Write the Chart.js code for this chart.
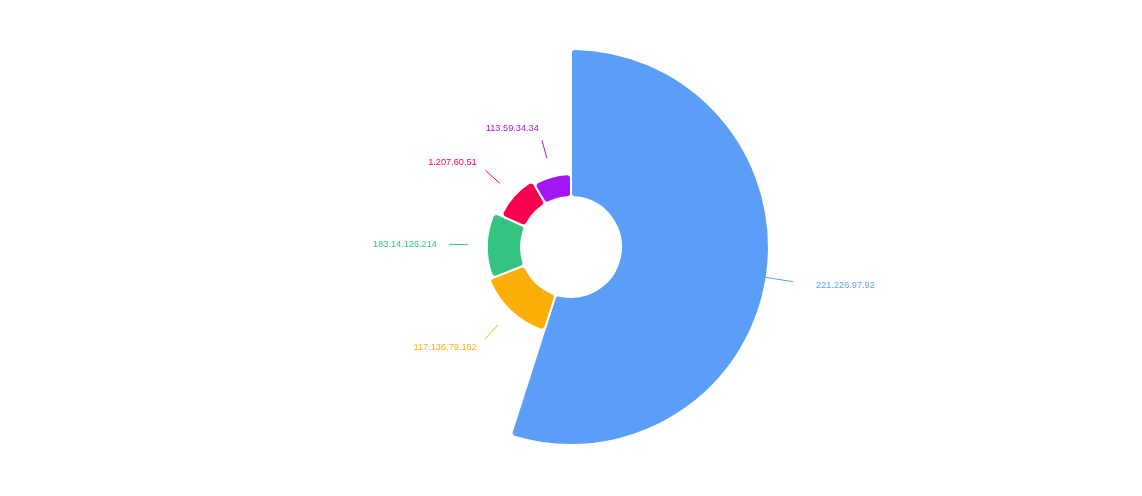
<!DOCTYPE html>
<html>
<head>
<meta charset="utf-8">
<script src="https://cdn.jsdelivr.net/npm/chart.js@4/dist/chart.umd.min.js"></script>
<style>
  html, body { margin: 0; padding: 0; background: #fff; }
  #wrap { width: 1142px; height: 496px; }
</style>
</head>
<body>
<div id="wrap"><canvas id="myChart"></canvas></div>
<script>
'use strict'

// data
const ips = ['221.226.97.92', '117.136.79.162', '183.14.126.214', '1.207.60.51', '113.59.34.34'];
const hits = [39, 10, 9, 7, 6];
const colors = ['#5b9ef7', '#fbae08', '#33c47f', '#fa0150', '#a416f5'];

const innerR = 50;
const outerR = 198;

// rose type: the outer radius of each slice grows with its value
const roseRadius = {
  id: 'roseRadius',
  afterDatasetsUpdate(chart) {
    const meta = chart.getDatasetMeta(0);
    const values = chart.data.datasets[0].data;
    const max = Math.max(...values);
    meta.data.forEach(function(arc, i) {
      arc.outerRadius = arc.innerRadius + (outerR - arc.innerRadius) * values[i] / max;
    });
  }
};

// label lines and texts outside each slice
const sliceLabels = {
  id: 'sliceLabels',
  afterDatasetsDraw(chart) {
    const ctx = chart.ctx;
    const meta = chart.getDatasetMeta(0);
    const values = chart.data.datasets[0].data;
    const max = Math.max(...values);
    ctx.save();
    ctx.font = '9.2px "Liberation Sans", Arial, sans-serif';
    ctx.textBaseline = 'middle';
    ctx.lineWidth = 1;
    meta.data.forEach(function(arc, i) {
      const mid = (arc.startAngle + arc.endAngle) / 2;
      const cx = Math.cos(mid);
      const cy = Math.sin(mid);
      const r = arc.outerRadius;
      let a = r + 19;
      let b = r + 38;
      if (values[i] === max) { a = r - 1; b = r + 27; }
      const t = r + 50;
      ctx.strokeStyle = colors[i];
      ctx.fillStyle = colors[i];
      ctx.beginPath();
      ctx.moveTo(arc.x + cx * a, arc.y + cy * a);
      ctx.lineTo(arc.x + cx * b, arc.y + cy * b);
      ctx.stroke();
      ctx.textAlign = cx < 0 ? 'right' : 'left';
      ctx.fillText(chart.data.labels[i], arc.x + cx * t, arc.y + cy * t);
    });
    ctx.restore();
  }
};

const ctx = document.getElementById('myChart').getContext('2d');
const chart = new Chart(ctx, {
  type: 'doughnut',
  data: {
    labels: ips,
    datasets: [{
      data: hits,
      backgroundColor: colors,
      borderColor: '#fff',
      borderWidth: 2,
      borderRadius: 4
    }]
  },
  options: {
    responsive: true,
    maintainAspectRatio: false,
    animation: false,
    radius: outerR,
    cutout: (innerR / outerR * 100) + '%',
    layout: { padding: { bottom: 2 } },
    plugins: {
      legend: { display: false },
      tooltip: { enabled: false }
    }
  },
  plugins: [roseRadius, sliceLabels]
});
</script>
</body>
</html>
